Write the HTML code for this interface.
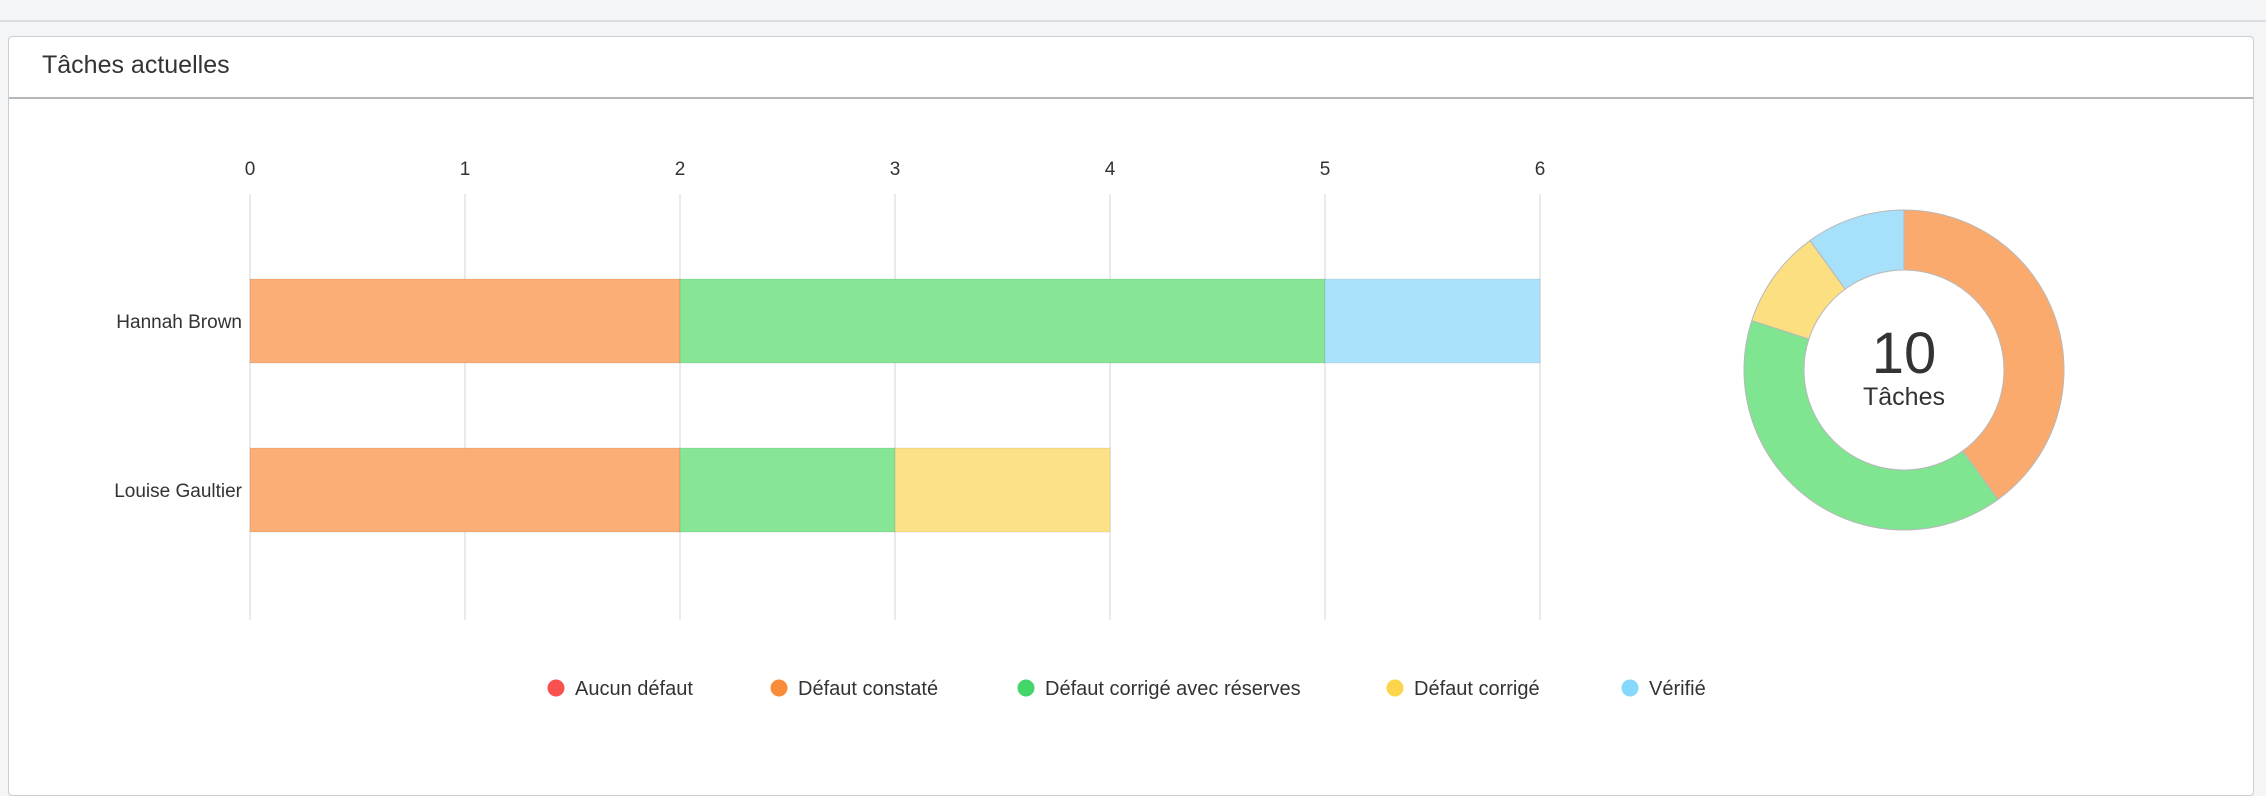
<!DOCTYPE html>
<html><head><meta charset="utf-8"><style>
body{margin:0;width:2266px;height:782px;background:#f4f5f7;font-family:"Liberation Sans",sans-serif;overflow:hidden;position:relative}
#topline{position:absolute;left:0;top:20px;width:2266px;height:2px;background:#dcdee2}
#card{position:absolute;left:8px;top:36px;width:2246px;height:760px;background:#fff;border:1px solid #c9ccd1;border-radius:4px;box-sizing:border-box}
#hdr{position:absolute;left:0;top:0;width:100%;height:60px;border-bottom:2px solid #b5b7ba}
#title{position:absolute;left:33px;top:14px;font-size:25px;color:#333}
svg{position:absolute;left:0;top:0}
</style></head><body>
<div id="topline"></div>
<div id="card">
<div id="hdr"><div id="title">Tâches actuelles</div></div>
</div>
<svg id="chart" width="2266" height="782"></svg>
<script>
const categories=["Hannah Brown","Louise Gaultier"];
const seriesNames=["Aucun défaut","Défaut constaté","Défaut corrigé avec réserves","Défaut corrigé","Vérifié"];
const aucun=[0,0];
const constate=[2,2];
const reserves=[3,1];
const corrige=[0,1];
const verifie=[1,0];
const ticks=[0,1,2,3,4,5,6];
const barColors=["#f98f8e","#fbaa6e","#80e590","#fcdf80","#a6e0fb"];
const dotColors=["#f95150","#f98c3a","#45d568","#fdd54a","#87d8fd"];
const NS="http://www.w3.org/2000/svg";
const svg=document.getElementById('chart');
function mk(t,a){const e=document.createElementNS(NS,t);for(const k in a)e.setAttribute(k,a[k]);svg.appendChild(e);return e;}
const x0=250,unit=215,gTop=194,gBot=620;
const xs=v=>x0+v*unit;
const rowY=i=>279+i*169, barH=84;
ticks.forEach(t=>{
 const l=mk('line',{x1:xs(t),x2:xs(t),y1:gTop,y2:gBot,stroke:'#e3e3e3','stroke-width':1.5});
 
 
 const tx=mk('text',{x:xs(t),y:175,'text-anchor':'middle','font-size':19,fill:'#333'});
 tx.textContent=t;
 
 
});
const series=[aucun,constate,reserves,corrige,verifie];
categories.forEach((c,i)=>{
 const lb=mk('text',{x:242,y:rowY(i)+barH/2+7,'text-anchor':'end','font-size':19,fill:'#333'});
 lb.textContent=c;
 
 
 let acc=0;
 series.forEach((s,k)=>{
  const v=s[i]; if(!v)return;
  const r=mk('rect',{x:xs(acc),y:rowY(i),width:v*unit,height:barH,fill:barColors[k],'fill-opacity':0.95,stroke:'rgba(0,0,0,0.08)','stroke-width':1});
  
  
  acc+=v;
 });
});
// donut
const totals=series.map(s=>s.reduce((a,b)=>a+b,0));
const total=totals.reduce((a,b)=>a+b,0);
const cx=1904,cy=370,R=160,r0=100;
let ang=-Math.PI/2;
totals.forEach((v,k)=>{
 if(!v)return;
 const a1=ang,a2=ang+v/total*2*Math.PI;ang=a2;
 const lg=(a2-a1)>Math.PI?1:0;
 const p=`M${cx+R*Math.cos(a1)},${cy+R*Math.sin(a1)} A${R},${R} 0 ${lg} 1 ${cx+R*Math.cos(a2)},${cy+R*Math.sin(a2)} L${cx+r0*Math.cos(a2)},${cy+r0*Math.sin(a2)} A${r0},${r0} 0 ${lg} 0 ${cx+r0*Math.cos(a1)},${cy+r0*Math.sin(a1)} Z`;
 const e=mk('path',{d:p,fill:barColors[k],stroke:'#b8b8b8','stroke-width':1});
 
 
});
const tt=mk('text',{x:cx,y:373,'text-anchor':'middle','font-size':58,fill:'#333'});
tt.textContent=total;


const tl=mk('text',{x:cx,y:405,'text-anchor':'middle','font-size':25,fill:'#333'});
tl.textContent="Tâches";


// legend
const legX=[556,779,1026,1395,1630];
seriesNames.forEach((n,k)=>{
 const d=mk('circle',{cx:legX[k],cy:688,r:8.5,fill:dotColors[k]});
 
 
 const t=mk('text',{x:legX[k]+19,y:695,'font-size':20,fill:'#333'});
 t.textContent=n;
 
 
});
</script>
</body></html>
